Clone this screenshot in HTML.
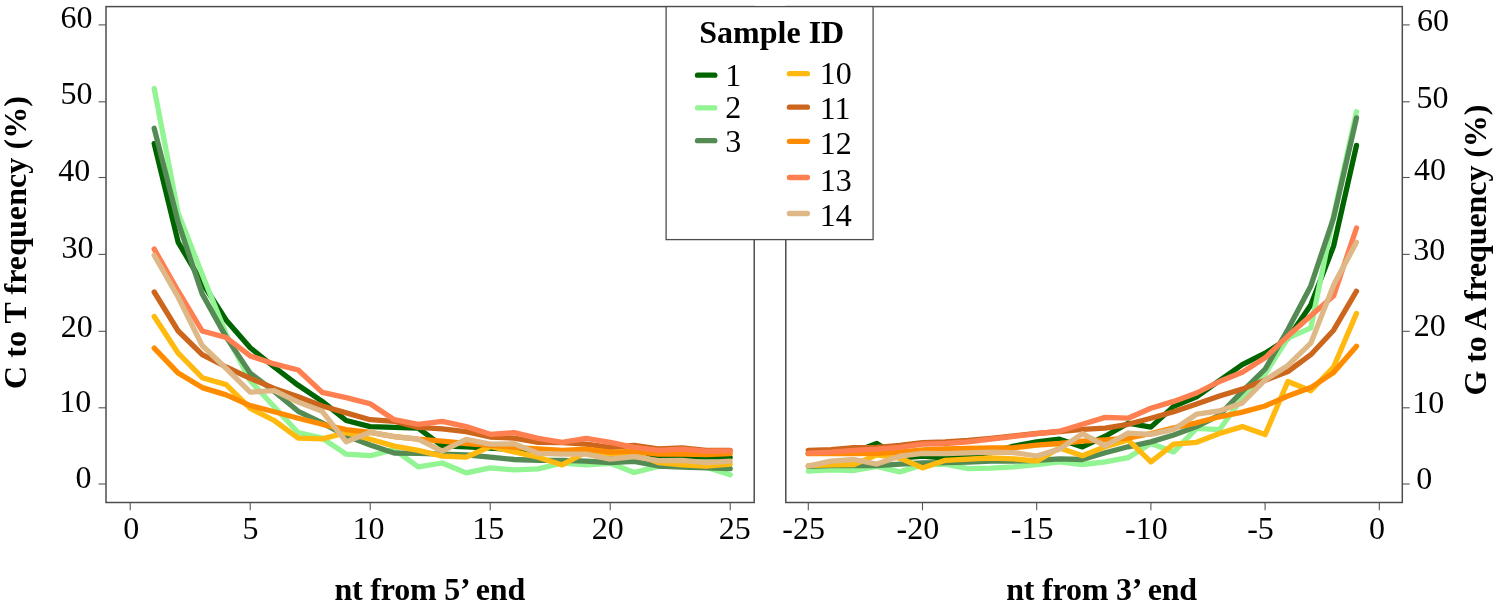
<!DOCTYPE html>
<html lang="en"><head><meta charset="utf-8"><title>Damage pattern plot</title>
<style>html,body{margin:0;padding:0;background:#fff}svg{display:block}text{font-family:"Liberation Serif","Times New Roman",serif;font-size:32px;fill:#000}.b{font-weight:bold}.ln{fill:none;stroke-width:5.3;stroke-linejoin:round;stroke-linecap:round}.ax{stroke:#4d4d4d;stroke-width:1.5;fill:none}.tk{stroke:#555;stroke-width:1.1}</style></head><body>
<svg width="1500" height="608" viewBox="0 0 1500 608">
<rect width="1500" height="608" fill="#fff"/>
<rect class="ax" x="106" y="6.6" width="648.2" height="495.9"/>
<rect class="ax" x="785.8" y="6.6" width="616.5" height="495.9"/>
<line class="tk" x1="98.6" x2="106" y1="484.00" y2="484.00"/>
<line class="tk" x1="1402.3" x2="1409.7" y1="484.00" y2="484.00"/>
<line class="tk" x1="98.6" x2="106" y1="407.80" y2="407.80"/>
<line class="tk" x1="1402.3" x2="1409.7" y1="407.80" y2="407.80"/>
<line class="tk" x1="98.6" x2="106" y1="331.30" y2="331.30"/>
<line class="tk" x1="1402.3" x2="1409.7" y1="331.30" y2="331.30"/>
<line class="tk" x1="98.6" x2="106" y1="254.40" y2="254.40"/>
<line class="tk" x1="1402.3" x2="1409.7" y1="254.40" y2="254.40"/>
<line class="tk" x1="98.6" x2="106" y1="177.50" y2="177.50"/>
<line class="tk" x1="1402.3" x2="1409.7" y1="177.50" y2="177.50"/>
<line class="tk" x1="98.6" x2="106" y1="101.80" y2="101.80"/>
<line class="tk" x1="1402.3" x2="1409.7" y1="101.80" y2="101.80"/>
<line class="tk" x1="98.6" x2="106" y1="24.90" y2="24.90"/>
<line class="tk" x1="1402.3" x2="1409.7" y1="24.90" y2="24.90"/>
<line class="tk" x1="130.20" x2="130.20" y1="502.5" y2="510.3"/>
<line class="tk" x1="250.20" x2="250.20" y1="502.5" y2="510.3"/>
<line class="tk" x1="370.20" x2="370.20" y1="502.5" y2="510.3"/>
<line class="tk" x1="490.20" x2="490.20" y1="502.5" y2="510.3"/>
<line class="tk" x1="610.20" x2="610.20" y1="502.5" y2="510.3"/>
<line class="tk" x1="730.20" x2="730.20" y1="502.5" y2="510.3"/>
<line class="tk" x1="808.30" x2="808.30" y1="502.5" y2="510.3"/>
<line class="tk" x1="922.50" x2="922.50" y1="502.5" y2="510.3"/>
<line class="tk" x1="1036.70" x2="1036.70" y1="502.5" y2="510.3"/>
<line class="tk" x1="1150.90" x2="1150.90" y1="502.5" y2="510.3"/>
<line class="tk" x1="1265.10" x2="1265.10" y1="502.5" y2="510.3"/>
<line class="tk" x1="1379.30" x2="1379.30" y1="502.5" y2="510.3"/>
<polyline class="ln" stroke="#006400" points="154.2,143.6 178.2,242.3 202.2,282.8 226.2,320.3 250.2,347.8 274.2,367.0 298.2,385.3 322.2,401.4 346.2,420.5 370.2,426.6 394.2,427.4 418.2,428.2 442.2,445.8 466.2,446.9 490.2,448.0 514.2,449.6 538.2,451.1 562.2,451.9 586.2,453.4 610.2,454.2 634.2,454.9 658.2,457.2 682.2,456.8 706.2,456.5 730.2,457.5"/>
<polyline class="ln" stroke="#92F492" points="154.2,88.5 178.2,213.2 202.2,274.4 226.2,334.1 250.2,380.7 274.2,406.7 298.2,432.7 322.2,438.1 346.2,454.2 370.2,455.7 394.2,449.6 418.2,466.9 442.2,463.0 466.2,472.9 490.2,467.9 514.2,469.9 538.2,468.9 562.2,463.0 586.2,464.9 610.2,463.3 634.2,472.5 658.2,466.4 682.2,466.4 706.2,467.2 730.2,474.8"/>
<polyline class="ln" stroke="#548B54" points="154.2,128.3 178.2,222.4 202.2,293.9 226.2,337.1 250.2,373.1 274.2,391.4 298.2,411.3 322.2,422.8 346.2,435.8 370.2,445.0 394.2,453.0 418.2,453.4 442.2,454.2 466.2,454.9 490.2,457.2 514.2,459.5 538.2,460.3 562.2,460.3 586.2,461.1 610.2,462.6 634.2,461.4 658.2,466.0 682.2,467.2 706.2,467.9 730.2,468.7"/>
<polyline class="ln" stroke="#FFB90F" points="154.2,316.5 178.2,353.2 202.2,377.7 226.2,384.6 250.2,408.3 274.2,420.5 298.2,438.1 322.2,438.9 346.2,432.7 370.2,439.2 394.2,446.1 418.2,450.3 442.2,456.1 466.2,457.2 490.2,446.5 514.2,451.9 538.2,457.2 562.2,464.9 586.2,451.9 610.2,454.2 634.2,453.4 658.2,462.6 682.2,464.9 706.2,466.0 730.2,464.1"/>
<polyline class="ln" stroke="#CD661D" points="154.2,292.0 178.2,331.0 202.2,354.7 226.2,367.0 250.2,378.4 274.2,388.4 298.2,396.8 322.2,406.0 346.2,412.9 370.2,419.7 394.2,421.3 418.2,427.4 442.2,428.9 466.2,431.6 490.2,437.0 514.2,438.1 538.2,442.3 562.2,442.7 586.2,444.2 610.2,447.3 634.2,445.3 658.2,448.8 682.2,448.0 706.2,450.3 730.2,450.3"/>
<polyline class="ln" stroke="#FF8C00" points="154.2,348.1 178.2,373.1 202.2,387.6 226.2,394.9 250.2,405.6 274.2,411.7 298.2,418.2 322.2,424.3 346.2,429.7 370.2,432.3 394.2,436.6 418.2,439.2 442.2,441.2 466.2,443.5 490.2,445.3 514.2,447.3 538.2,448.8 562.2,450.3 586.2,449.2 610.2,452.2 634.2,451.3 658.2,454.2 682.2,454.2 706.2,454.5 730.2,453.6"/>
<polyline class="ln" stroke="#FF7F50" points="154.2,249.1 178.2,291.2 202.2,331.0 226.2,337.5 250.2,355.9 274.2,363.9 298.2,370.0 322.2,392.4 346.2,397.6 370.2,403.7 394.2,419.7 418.2,424.3 442.2,421.4 466.2,426.6 490.2,434.3 514.2,432.7 538.2,438.3 562.2,442.3 586.2,438.3 610.2,442.3 634.2,447.3 658.2,450.3 682.2,449.2 706.2,451.1 730.2,450.8"/>
<polyline class="ln" stroke="#DEB887" points="154.2,255.3 178.2,297.3 202.2,345.5 226.2,368.5 250.2,392.2 274.2,390.7 298.2,402.1 322.2,411.3 346.2,441.9 370.2,432.3 394.2,436.6 418.2,439.2 442.2,451.1 466.2,439.3 490.2,444.2 514.2,443.7 538.2,453.4 562.2,454.2 586.2,454.2 610.2,459.1 634.2,456.7 658.2,460.7 682.2,460.3 706.2,462.6 730.2,461.1"/>
<polyline class="ln" stroke="#006400" points="808.3,453.4 831.1,453.4 854.0,451.9 876.8,443.5 899.7,458.0 922.5,456.2 945.3,458.0 968.2,454.9 991.0,452.6 1013.9,446.1 1036.7,441.9 1059.5,439.2 1082.4,446.9 1105.2,436.2 1128.1,423.2 1150.9,427.1 1173.7,406.4 1196.6,396.8 1219.4,380.7 1242.3,364.7 1265.1,353.2 1287.9,338.6 1310.8,305.0 1333.6,246.1 1356.5,145.4"/>
<polyline class="ln" stroke="#92F492" points="808.3,471.0 831.1,469.9 854.0,470.5 876.8,466.4 899.7,471.9 922.5,464.9 945.3,464.1 968.2,468.7 991.0,468.2 1013.9,466.9 1036.7,464.5 1059.5,461.8 1082.4,464.5 1105.2,461.8 1128.1,457.7 1150.9,443.5 1173.7,451.9 1196.6,428.3 1219.4,429.7 1242.3,398.3 1265.1,373.8 1287.9,338.1 1310.8,327.9 1333.6,215.5 1356.5,111.8"/>
<polyline class="ln" stroke="#548B54" points="808.3,466.4 831.1,465.6 854.0,465.3 876.8,465.6 899.7,464.1 922.5,463.0 945.3,462.6 968.2,462.0 991.0,461.1 1013.9,461.1 1036.7,460.3 1059.5,458.8 1082.4,459.5 1105.2,452.8 1128.1,446.8 1150.9,441.9 1173.7,435.0 1196.6,426.6 1219.4,415.1 1242.3,391.4 1265.1,369.2 1287.9,329.5 1310.8,285.9 1333.6,217.8 1356.5,117.9"/>
<polyline class="ln" stroke="#FFB90F" points="808.3,465.6 831.1,464.9 854.0,464.5 876.8,454.9 899.7,458.0 922.5,467.9 945.3,460.3 968.2,459.1 991.0,458.0 1013.9,458.8 1036.7,461.1 1059.5,448.0 1082.4,455.7 1105.2,446.8 1128.1,439.9 1150.9,461.8 1173.7,444.2 1196.6,442.3 1219.4,433.5 1242.3,426.6 1265.1,434.6 1287.9,381.5 1310.8,390.7 1333.6,367.0 1356.5,313.4"/>
<polyline class="ln" stroke="#CD661D" points="808.3,450.3 831.1,449.6 854.0,447.7 876.8,447.3 899.7,445.3 922.5,442.7 945.3,441.9 968.2,440.4 991.0,438.3 1013.9,435.8 1036.7,433.5 1059.5,431.6 1082.4,429.3 1105.2,428.2 1128.1,424.3 1150.9,418.2 1173.7,411.7 1196.6,404.1 1219.4,396.0 1242.3,389.1 1265.1,380.3 1287.9,371.5 1310.8,354.7 1333.6,330.2 1356.5,291.2"/>
<polyline class="ln" stroke="#FF8C00" points="808.3,453.7 831.1,453.7 854.0,453.6 876.8,453.4 899.7,452.2 922.5,450.0 945.3,449.0 968.2,448.4 991.0,448.0 1013.9,447.7 1036.7,445.1 1059.5,443.5 1082.4,441.2 1105.2,439.9 1128.1,438.1 1150.9,433.5 1173.7,427.9 1196.6,422.8 1219.4,416.8 1242.3,412.1 1265.1,406.0 1287.9,396.0 1310.8,387.6 1333.6,372.6 1356.5,346.3"/>
<polyline class="ln" stroke="#FF7F50" points="808.3,453.2 831.1,452.2 854.0,450.3 876.8,449.2 899.7,447.3 922.5,444.2 945.3,443.5 968.2,441.9 991.0,439.2 1013.9,436.3 1036.7,433.7 1059.5,431.2 1082.4,424.3 1105.2,417.4 1128.1,418.2 1150.9,408.3 1173.7,401.4 1196.6,393.0 1219.4,381.5 1242.3,372.3 1265.1,357.8 1287.9,336.1 1310.8,315.7 1333.6,295.8 1356.5,228.0"/>
<polyline class="ln" stroke="#DEB887" points="808.3,466.0 831.1,461.1 854.0,459.5 876.8,464.1 899.7,456.2 922.5,453.4 945.3,453.6 968.2,452.8 991.0,452.1 1013.9,452.6 1036.7,456.0 1059.5,449.1 1082.4,433.7 1105.2,445.8 1128.1,433.1 1150.9,434.3 1173.7,429.4 1196.6,414.2 1219.4,410.9 1242.3,402.9 1265.1,380.0 1287.9,365.4 1310.8,343.2 1333.6,285.1 1356.5,242.3"/>
<rect x="666.1" y="6.6" width="207" height="233" fill="#fff" stroke="#4d4d4d" stroke-width="1.3"/>
<text class="b" x="699.3" y="42.8">Sample ID</text>
<line class="ln" stroke="#006400" x1="697.5" x2="714.8" y1="75.2" y2="75.2"/>
<text x="725.2" y="85.5">1</text>
<line class="ln" stroke="#92F492" x1="697.5" x2="714.8" y1="107.8" y2="107.8"/>
<text x="725.2" y="118.0">2</text>
<line class="ln" stroke="#548B54" x1="697.5" x2="714.8" y1="140.7" y2="140.7"/>
<text x="725.2" y="151.8">3</text>
<line class="ln" stroke="#FFB90F" x1="789.4" x2="807.4" y1="73.7" y2="73.7"/>
<text x="819.8" y="83.5">10</text>
<line class="ln" stroke="#CD661D" x1="789.4" x2="807.4" y1="107.2" y2="107.2"/>
<text x="819.8" y="118.6">11</text>
<line class="ln" stroke="#FF8C00" x1="789.4" x2="807.4" y1="141.3" y2="141.3"/>
<text x="819.8" y="154.1">12</text>
<line class="ln" stroke="#FF7F50" x1="789.4" x2="807.4" y1="177.5" y2="177.5"/>
<text x="819.8" y="191.3">13</text>
<line class="ln" stroke="#DEB887" x1="789.4" x2="807.4" y1="213.5" y2="213.5"/>
<text x="819.8" y="225.8">14</text>
<text text-anchor="end" x="92.5" y="28.0">60</text>
<text text-anchor="end" x="92.4" y="104.0">50</text>
<text text-anchor="end" x="90.3" y="180.6">40</text>
<text text-anchor="end" x="93.5" y="258.0">30</text>
<text text-anchor="end" x="92.8" y="336.9">20</text>
<text text-anchor="end" x="91.3" y="411.7">10</text>
<text text-anchor="end" x="91.5" y="488.0">0</text>
<text x="1416.9" y="30.8">60</text>
<text x="1416.6" y="107.6">50</text>
<text x="1413.9" y="179.6">40</text>
<text x="1413.3" y="259.9">30</text>
<text x="1413.8" y="336.3">20</text>
<text x="1412.2" y="412.9">10</text>
<text x="1416.2" y="488.6">0</text>
<text text-anchor="middle" x="131.2" y="538.5">0</text>
<text text-anchor="middle" x="250.4" y="538.5">5</text>
<text text-anchor="middle" x="368.4" y="538.5">10</text>
<text text-anchor="middle" x="488.3" y="538.5">15</text>
<text text-anchor="middle" x="607.7" y="538.5">20</text>
<text text-anchor="middle" x="734.8" y="538.5">25</text>
<text text-anchor="middle" x="803.7" y="538.5">-25</text>
<text text-anchor="middle" x="917.9" y="538.5">-20</text>
<text text-anchor="middle" x="1032.1" y="538.5">-15</text>
<text text-anchor="middle" x="1146.3" y="538.5">-10</text>
<text text-anchor="middle" x="1260.5" y="538.5">-5</text>
<text text-anchor="middle" x="1377" y="538.5">0</text>
<text class="b" style="letter-spacing:-0.2px" x="334.4" y="599.6">nt from 5’ end</text>
<text class="b" style="letter-spacing:-0.2px" x="1006.2" y="599.6">nt from 3’ end</text>
<text class="b" style="letter-spacing:0.07px" transform="translate(26.2,389) rotate(-90)">C to T frequency (%)</text>
<text class="b" style="letter-spacing:-0.1px" transform="translate(1485.9,395.5) rotate(-90)">G to A frequency (%)</text>
</svg></body></html>
